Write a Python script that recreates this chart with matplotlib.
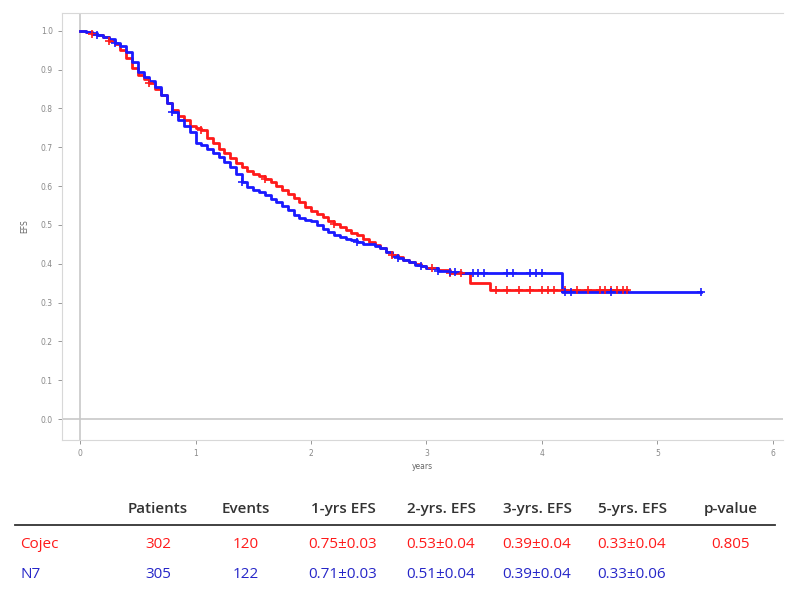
import numpy as np
import matplotlib.pyplot as plt

# Kaplan-Meier curves (years, EFS)
cojec_t = [0, 0.05, 0.1, 0.15, 0.2, 0.25, 0.3, 0.35, 0.4, 0.45, 0.5, 0.55, 0.6, 0.65,
           0.7, 0.75, 0.8, 0.85, 0.9, 0.95, 1.0, 1.05, 1.1, 1.15, 1.2, 1.25, 1.3,
           1.35, 1.4, 1.45, 1.5, 1.55, 1.6, 1.65, 1.7, 1.75, 1.8, 1.85, 1.9, 1.95,
           2.0, 2.05, 2.1, 2.15, 2.2, 2.25, 2.3, 2.35, 2.4, 2.45, 2.5, 2.55, 2.6,
           2.65, 2.7, 2.75, 2.8, 2.85, 2.9, 2.95, 3.0, 3.1, 3.2, 3.38, 3.55, 4.74]
cojec_s = [1.0, 0.997, 0.993, 0.99, 0.985, 0.975, 0.965, 0.95, 0.93, 0.905, 0.885,
           0.875, 0.865, 0.85, 0.835, 0.815, 0.795, 0.78, 0.77, 0.755, 0.75, 0.745,
           0.725, 0.71, 0.695, 0.685, 0.672, 0.66, 0.65, 0.64, 0.632, 0.625, 0.618,
           0.61, 0.6, 0.59, 0.58, 0.57, 0.558, 0.545, 0.535, 0.528, 0.52, 0.51,
           0.503, 0.495, 0.488, 0.48, 0.475, 0.465, 0.455, 0.448, 0.44, 0.43,
           0.423, 0.418, 0.41, 0.405, 0.4, 0.395, 0.39, 0.385, 0.375, 0.35, 0.332,
           0.332]
n7_t = [0, 0.05, 0.1, 0.15, 0.2, 0.25, 0.3, 0.35, 0.4, 0.45, 0.5, 0.55, 0.6, 0.65,
        0.7, 0.75, 0.8, 0.85, 0.9, 0.95, 1.0, 1.05, 1.1, 1.15, 1.2, 1.25, 1.3,
        1.35, 1.4, 1.45, 1.5, 1.55, 1.6, 1.65, 1.7, 1.75, 1.8, 1.85, 1.9, 1.95,
        2.0, 2.05, 2.1, 2.15, 2.2, 2.25, 2.3, 2.35, 2.4, 2.45, 2.5, 2.55, 2.6,
        2.65, 2.7, 2.75, 2.8, 2.85, 2.9, 2.95, 3.0, 3.1, 3.2, 3.3, 4.17, 5.38]
n7_s = [1.0, 0.998, 0.995, 0.99, 0.985, 0.98, 0.97, 0.96, 0.945, 0.92, 0.895,
        0.88, 0.87, 0.855, 0.835, 0.815, 0.79, 0.77, 0.755, 0.74, 0.71, 0.705,
        0.695, 0.685, 0.675, 0.662, 0.65, 0.63, 0.61, 0.598, 0.59, 0.585, 0.578,
        0.568, 0.56, 0.55, 0.538, 0.525, 0.518, 0.513, 0.51, 0.5, 0.49, 0.482,
        0.475, 0.468, 0.463, 0.46, 0.456, 0.452, 0.45, 0.445, 0.44, 0.43, 0.42,
        0.415, 0.41, 0.405, 0.398, 0.393, 0.39, 0.382, 0.378, 0.375, 0.328, 0.328]

# censored observations (+ marks)
cojec_cens = [0.1, 0.25, 0.6, 1.05, 1.6, 2.2, 2.7, 3.05, 3.2, 3.3, 3.6, 3.7, 3.8,
              3.9, 4.0, 4.05, 4.1, 4.2, 4.3, 4.4, 4.5, 4.55, 4.6, 4.65, 4.7, 4.74]
n7_cens = [0.15, 0.3, 0.8, 1.4, 2.4, 2.75, 2.95, 3.1, 3.2, 3.25, 3.4, 3.45, 3.5,
           3.7, 3.75, 3.9, 3.95, 4.0, 4.2, 4.25, 4.6, 5.38]

# summary table
columns = ['Patients', 'Events', '1-yrs EFS', '2-yrs. EFS', '3-yrs. EFS',
           '5-yrs. EFS', 'p-value']
groups = ['Cojec', 'N7']
patients = ['302', '305']
events = ['120', '122']
efs_1y = ['0.75±0.03', '0.71±0.03']
efs_2y = ['0.53±0.04', '0.51±0.04']
efs_3y = ['0.39±0.04', '0.39±0.04']
efs_5y = ['0.33±0.04', '0.33±0.06']
p_value = ['0.805', '']

RED = '#ff1a1a'
BLUE = '#1a1aff'
colors = [RED, '#2626c8']

W, H = 785, 589
fig = plt.figure(figsize=(W / 100, H / 100), dpi=100)
ax = fig.add_axes([62 / W, 1 - 440 / H, 721 / W, 427 / H])


def surv_at(tt, ss, x):
    i = np.searchsorted(tt, x, side='right') - 1
    return ss[max(i, 0)]


for tt, ss, cens, c in [(cojec_t, cojec_s, cojec_cens, RED),
                        (n7_t, n7_s, n7_cens, BLUE)]:
    ax.plot(tt, ss, drawstyle='steps-post', color=c, lw=2.0, zorder=3)
    ys = [surv_at(tt, ss, x) for x in cens]
    ax.plot(cens, ys, ls='none', marker='+', ms=6, mew=1.2, color=c, zorder=4)

ax.axhline(0, color='#c8c8c8', lw=1.2, zorder=1)
ax.axvline(0, color='#c8c8c8', lw=1.2, zorder=1)

ax.set_xlim(-0.156, 6.087)
ax.set_ylim(-0.054, 1.046)
ax.set_xticks(range(7))
ax.set_yticks(np.arange(0, 1.01, 0.1))
ax.set_yticklabels([f'{v:.1f}' for v in np.arange(0, 1.01, 0.1)])
ax.tick_params(labelsize=5.5, colors='#888888', length=3, width=0.6)
for sp in ['left', 'bottom', 'top']:
    ax.spines[sp].set_color('#d8d8d8')
ax.spines['right'].set_visible(False)
ax.set_xlabel('years', fontsize=5.5, color='#666666', labelpad=3)
ax.set_ylabel('EFS', fontsize=5.5, color='#666666', labelpad=8)


def px(x, y):
    return x / W, 1 - y / H


col_x = [158, 246, 343, 441, 537, 632, 731]
font = dict(family='Open Sans', fontsize=11)
for cx, name in zip(col_x, columns):
    fig.text(*px(cx, 509), name, ha='center', va='center', color='#333333',
             fontweight='semibold', **font)
fig.add_artist(plt.Line2D([15 / W, 775 / W], [1 - 525 / H, 1 - 525 / H],
                          color='#333333', lw=1.3))
rows = list(zip(groups, patients, events, efs_1y, efs_2y, efs_3y, efs_5y, p_value))
for row, ry, c in zip(rows, [545, 575], colors):
    fig.text(*px(20, ry), row[0], ha='left', va='center', color=c, **font)
    for cx, val in zip(col_x, row[1:]):
        fig.text(*px(cx, ry), val, ha='center', va='center', color=c, **font)

fig.savefig('out.png', dpi=100)
